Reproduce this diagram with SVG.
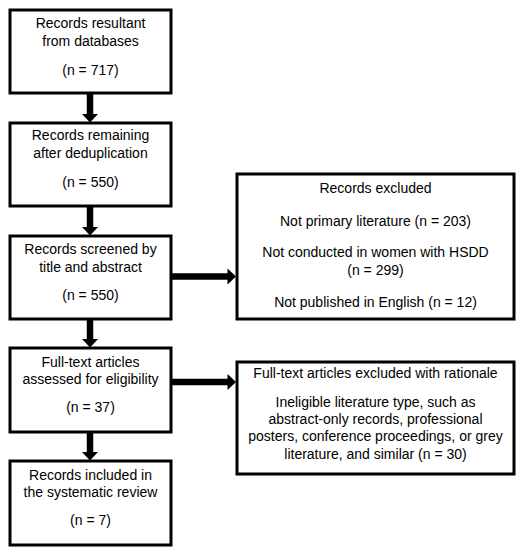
<svg xmlns="http://www.w3.org/2000/svg" width="521" height="550" viewBox="0 0 521 550">
<style>
.box{fill:#fff;stroke:#000;stroke-width:3}
.t{font-family:"Liberation Sans",Arial,sans-serif;font-size:14px;fill:#000;text-anchor:middle}
.sh{fill:none;stroke:#000;stroke-width:6.5}
</style>
<defs>
<marker id="ah" markerUnits="userSpaceOnUse" markerWidth="10" markerHeight="16" refX="0.5" refY="8" orient="auto" overflow="visible">
<path d="M0,0 L8.5,8 L0,16 Z" fill="#000"/>
</marker>
</defs>
<rect width="521" height="550" fill="#fff"/>
<g id="connectors">
<path class="sh" d="M90,94 V114.5" marker-end="url(#ah)"/>
<path class="sh" d="M90,207 V227.5" marker-end="url(#ah)"/>
<path class="sh" d="M90,320 V339.5" marker-end="url(#ah)"/>
<path class="sh" d="M90,433 V452.5" marker-end="url(#ah)"/>
<path class="sh" d="M172,276.5 H228" marker-end="url(#ah)"/>
<path class="sh" d="M172,382 H228" marker-end="url(#ah)"/>
</g>
<g id="n1">
<rect class="box" x="10" y="10" width="161" height="83"/>
<text class="t" x="90.5" y="28">Records resultant</text>
<text class="t" x="90.5" y="46">from databases</text>
<text class="t" x="90.5" y="75">(n = 717)</text>
</g>
<g id="n2">
<rect class="box" x="10" y="123" width="161" height="83"/>
<text class="t" x="90.5" y="140">Records remaining</text>
<text class="t" x="90.5" y="158">after deduplication</text>
<text class="t" x="90.5" y="187">(n = 550)</text>
</g>
<g id="n3">
<rect class="box" x="10" y="236" width="161" height="83"/>
<text class="t" x="90.5" y="254">Records screened by</text>
<text class="t" x="90.5" y="272">title and abstract</text>
<text class="t" x="90.5" y="300">(n = 550)</text>
</g>
<g id="n4">
<rect class="box" x="10" y="348" width="161" height="84"/>
<text class="t" x="90.5" y="367">Full-text articles</text>
<text class="t" x="90.5" y="384">assessed for eligibility</text>
<text class="t" x="90.5" y="412">(n = 37)</text>
</g>
<g id="n5">
<rect class="box" x="10" y="461" width="161" height="84"/>
<text class="t" x="90.5" y="480">Records included in</text>
<text class="t" x="90.5" y="497">the systematic review</text>
<text class="t" x="90.5" y="525">(n = 7)</text>
</g>
<g id="r1">
<rect class="box" x="237" y="174" width="277" height="145"/>
<text class="t" x="375.5" y="193">Records excluded</text>
<text class="t" x="375.5" y="226">Not primary literature (n = 203)</text>
<text class="t" x="375.5" y="257">Not conducted in women with HSDD</text>
<text class="t" x="375.5" y="275">(n = 299)</text>
<text class="t" x="375.5" y="307">Not published in English (n = 12)</text>
</g>
<g id="r2">
<rect class="box" x="237" y="362" width="277" height="112"/>
<text class="t" x="375.5" y="378">Full-text articles excluded with rationale</text>
<text class="t" x="375.5" y="407">Ineligible literature type, such as</text>
<text class="t" x="375.5" y="424">abstract-only records, professional</text>
<text class="t" x="375.5" y="441">posters, conference proceedings, or grey</text>
<text class="t" x="375.5" y="459">literature, and similar (n = 30)</text>
</g>
</svg>
